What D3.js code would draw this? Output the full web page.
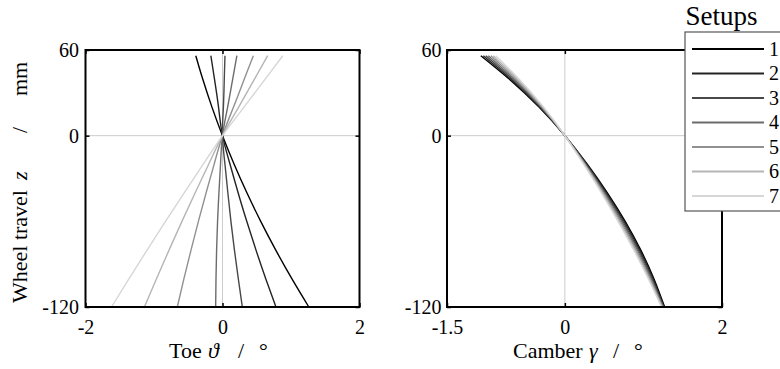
<!DOCTYPE html>
<html><head><meta charset="utf-8">
<script src="https://cdn.jsdelivr.net/npm/d3@7"></script>
<style>body{margin:0;background:#fff} text{font-family:"Liberation Serif","Times New Roman",serif;fill:#000}</style>
</head><body><svg id="c" width="780" height="369"></svg>
<script>
// ---- data ----
const zTravel = [56, 40, 20, 0, -20, -40, -60, -80, -100, -120];
const setups = ["1", "2", "3", "4", "5", "6", "7"];
const toe1 = [-0.390, -0.291, -0.154, 0, 0.170, 0.356, 0.558, 0.776, 1.010, 1.260];
const toe2 = [-0.170, -0.118, -0.058, 0, 0.110, 0.228, 0.354, 0.488, 0.630, 0.780];
const toe3 = [0.036, 0.026, 0.013, 0, 0.036, 0.078, 0.123, 0.174, 0.230, 0.290];
const toe4 = [0.210, 0.150, 0.075, 0, -0.029, -0.052, -0.072, -0.086, -0.095, -0.100];
const toe5 = [0.450, 0.321, 0.161, 0, -0.122, -0.239, -0.352, -0.459, -0.562, -0.660];
const toe6 = [0.660, 0.471, 0.236, 0, -0.202, -0.399, -0.592, -0.779, -0.962, -1.140];
const toe7 = [0.880, 0.629, 0.314, 0, -0.282, -0.559, -0.832, -1.099, -1.362, -1.620];
const camber1 = [-1.070, -0.717, -0.329, 0, 0.285, 0.541, 0.768, 0.965, 1.132, 1.270];
const camber2 = [-1.038, -0.696, -0.319, 0, 0.277, 0.528, 0.753, 0.950, 1.120, 1.263];
const camber3 = [-1.007, -0.675, -0.309, 0, 0.270, 0.516, 0.738, 0.935, 1.108, 1.257];
const camber4 = [-0.975, -0.654, -0.300, 0, 0.262, 0.503, 0.723, 0.921, 1.096, 1.250];
const camber5 = [-0.943, -0.632, -0.290, 0, 0.254, 0.490, 0.707, 0.906, 1.084, 1.243];
const camber6 = [-0.912, -0.611, -0.280, 0, 0.247, 0.478, 0.692, 0.891, 1.072, 1.237];
const camber7 = [-0.880, -0.590, -0.270, 0, 0.239, 0.465, 0.677, 0.876, 1.060, 1.230];
const toeTicks = [-2, 0, 2];
const camberTicks = [-1.5, 0, 2];
const zTicks = [-120, 0, 60];
const shades = ["#000000", "#242424", "#484848", "#6c6c6c", "#919191", "#b5b5b5", "#d6d6d6"];

const toeSeries = [toe1, toe2, toe3, toe4, toe5, toe6, toe7];
const camberSeries = [camber1, camber2, camber3, camber4, camber5, camber6, camber7];

const svg = d3.select("#c");
svg.append("rect").attr("width", 780).attr("height", 369).attr("fill", "#fff");

const plotTop = 50, plotBottom = 307;
const yZ = d3.scaleLinear().domain([-120, 60]).range([plotBottom, plotTop]);

function panel(x, series, ticks, yPad) {
  const [l, r] = x.range();
  const g = svg.append("g");
  g.append("line").attr("x1", x(0)).attr("x2", x(0)).attr("y1", plotTop).attr("y2", plotBottom)
    .attr("stroke", "#cccccc").attr("stroke-width", 1);
  g.append("line").attr("x1", l).attr("x2", r).attr("y1", yZ(0)).attr("y2", yZ(0))
    .attr("stroke", "#cccccc").attr("stroke-width", 1);
  const line = d3.line().x(d => x(d[0])).y(d => yZ(d[1])).curve(d3.curveNatural);
  series.forEach((s, i) => {
    g.append("path").datum(s.map((v, k) => [v, zTravel[k]]))
      .attr("d", line).attr("fill", "none").attr("stroke", shades[i]).attr("stroke-width", 1.4);
  });
  const fmt = d => String(d);
  const styleAxis = a => {
    a.select(".domain").remove();
    a.attr("font-family", null).attr("font-size", 20);
    a.selectAll("line").attr("stroke", "#000").attr("stroke-width", 1.5);
  };
  g.append("g").attr("transform", `translate(0,${plotBottom})`)
    .call(d3.axisBottom(x).tickValues(ticks).tickFormat(fmt).tickSize(-4).tickPadding(12.5)).call(styleAxis);
  g.append("g").attr("transform", `translate(0,${plotTop})`)
    .call(d3.axisTop(x).tickValues(ticks).tickFormat("").tickSize(-4)).call(styleAxis);
  g.append("g").attr("transform", `translate(${l},0)`)
    .call(d3.axisLeft(yZ).tickValues(zTicks).tickFormat(fmt).tickSize(-4).tickPadding(yPad)).call(styleAxis);
  g.append("g").attr("transform", `translate(${r},0)`)
    .call(d3.axisRight(yZ).tickValues(zTicks).tickFormat("").tickSize(-4)).call(styleAxis);
  g.append("rect").attr("x", l).attr("y", plotTop).attr("width", r - l).attr("height", plotBottom - plotTop)
    .attr("fill", "none").attr("stroke", "#000").attr("stroke-width", 2);
  return g;
}

const xToe = d3.scaleLinear().domain([-2, 2]).range([85.5, 359.5]);
const xCam = d3.scaleLinear().domain([-1.5, 2]).range([447, 722]);
panel(xToe, toeSeries, toeTicks, 6.5);
panel(xCam, camberSeries, camberTicks, 5.5);

function piece(txt, xx, yy, italic, rot) {
  const t = svg.append("text").attr("font-size", 22).text(txt)
    .attr("font-style", italic ? "italic" : null);
  if (rot) t.attr("transform", `translate(${xx},${yy}) rotate(-90)`);
  else t.attr("x", xx).attr("y", yy);
  return t;
}
piece("Toe", 169, 358, false);
piece("\u03D1", 208, 358, true);
piece("/", 238, 358, false);
piece("\u00B0", 259, 358, false);
piece("Camber", 513, 358, false);
piece("\u03B3", 589, 358, true);
piece("/", 613, 358, false);
piece("\u00B0", 634, 358, false);
piece("Wheel travel", 27, 303, false, true);
piece("z", 27, 180, true, true);
piece("/", 27, 133, false, true);
piece("mm", 27, 96, false, true);

const lg = svg.append("g");
lg.append("rect").attr("x", 685).attr("y", 32).attr("width", 110).attr("height", 179)
  .attr("fill", "#fff").attr("stroke", "#555").attr("stroke-width", 1.2);
lg.append("text").attr("x", 721.5).attr("y", 25).attr("text-anchor", "middle")
  .attr("font-size", 27).text("Setups");
const ly = d3.scalePoint().domain(setups).range([49, 196]);
setups.forEach((s, i) => {
  lg.append("line").attr("x1", 692).attr("x2", 764).attr("y1", ly(s)).attr("y2", ly(s))
    .attr("stroke", shades[i]).attr("stroke-width", 1.8);
  lg.append("text").attr("x", 769).attr("y", ly(s)).attr("dy", "0.34em")
    .attr("font-size", 20).text(s);
});
</script></body></html>
